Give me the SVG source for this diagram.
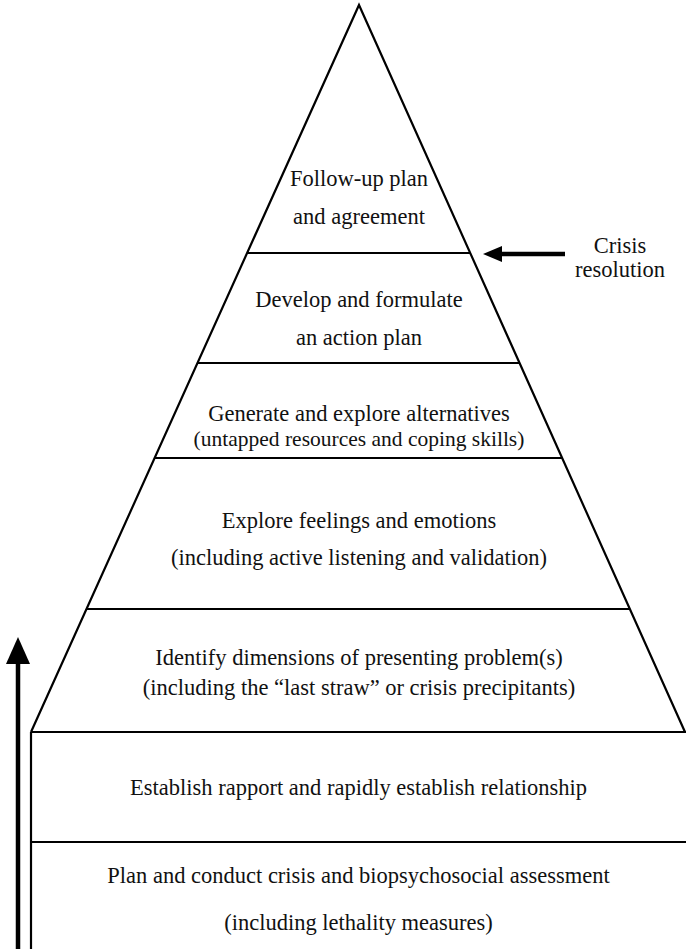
<svg xmlns="http://www.w3.org/2000/svg" width="686" height="949" viewBox="0 0 686 949">
  <style>
    .edge { fill: none; stroke: #000; stroke-width: 2.2; stroke-linejoin: miter; }
    .tier { stroke: #000; stroke-width: 2.2; }
    .lbl { font-family: "Liberation Serif", "Times New Roman", "DejaVu Serif", serif; font-size: 22.5px; fill: #111; text-anchor: middle; }
    .sub { font-size: 21.5px; }
    .shaft { stroke: #000; stroke-width: 4.5; }
    .head { fill: #000; }
  </style>
  <rect width="686" height="949" fill="#fff"/>

  <!-- pyramid outline and base block -->
  <g id="frame">
    <polyline class="edge" points="31,732 359,5 685,732"/>
    <line class="tier" x1="31" y1="732" x2="31" y2="949"/>
  </g>

  <g id="tier-followup">
    <text class="lbl" x="359" y="186">Follow-up plan</text>
    <text class="lbl" x="359" y="224">and agreement</text>
  </g>

  <g id="tier-action-plan">
    <line class="tier" x1="247" y1="253" x2="470" y2="253"/>
    <text class="lbl" x="359" y="307">Develop and formulate</text>
    <text class="lbl" x="359" y="345">an action plan</text>
  </g>

  <g id="tier-alternatives">
    <line class="tier" x1="197.5" y1="363" x2="519.5" y2="363"/>
    <text class="lbl" x="359" y="421">Generate and explore alternatives</text>
    <text class="lbl sub" x="359" y="446">(untapped resources and coping skills)</text>
  </g>

  <g id="tier-feelings">
    <line class="tier" x1="154.6" y1="458" x2="562.1" y2="458"/>
    <text class="lbl" x="359" y="528">Explore feelings and emotions</text>
    <text class="lbl" x="359" y="565">(including active listening and validation)</text>
  </g>

  <g id="tier-problem">
    <line class="tier" x1="86.5" y1="609" x2="630" y2="609"/>
    <text class="lbl" x="359" y="665">Identify dimensions of presenting problem(s)</text>
    <text class="lbl" x="359" y="695">(including the “last straw” or crisis precipitants)</text>
  </g>

  <g id="tier-rapport">
    <line class="tier" x1="31" y1="732" x2="686" y2="732"/>
    <text class="lbl" x="358.5" y="795">Establish rapport and rapidly establish relationship</text>
  </g>

  <g id="tier-assessment">
    <line class="tier" x1="31" y1="842" x2="686" y2="842"/>
    <text class="lbl" x="358.5" y="883">Plan and conduct crisis and biopsychosocial assessment</text>
    <text class="lbl" x="358.5" y="930">(including lethality measures)</text>
  </g>

  <g id="note-resolution">
    <text class="lbl" x="620" y="253">Crisis</text>
    <text class="lbl" x="620" y="277">resolution</text>
  </g>

  <!-- arrows -->
  <g id="connectors">
    <line class="shaft" x1="565" y1="254" x2="500" y2="254"/>
    <polygon class="head" points="483,254 502,246 502,262"/>
    <line class="shaft" x1="18" y1="949" x2="18" y2="660"/>
    <polygon class="head" points="18,637 6,664 30,664"/>
  </g>
</svg>
